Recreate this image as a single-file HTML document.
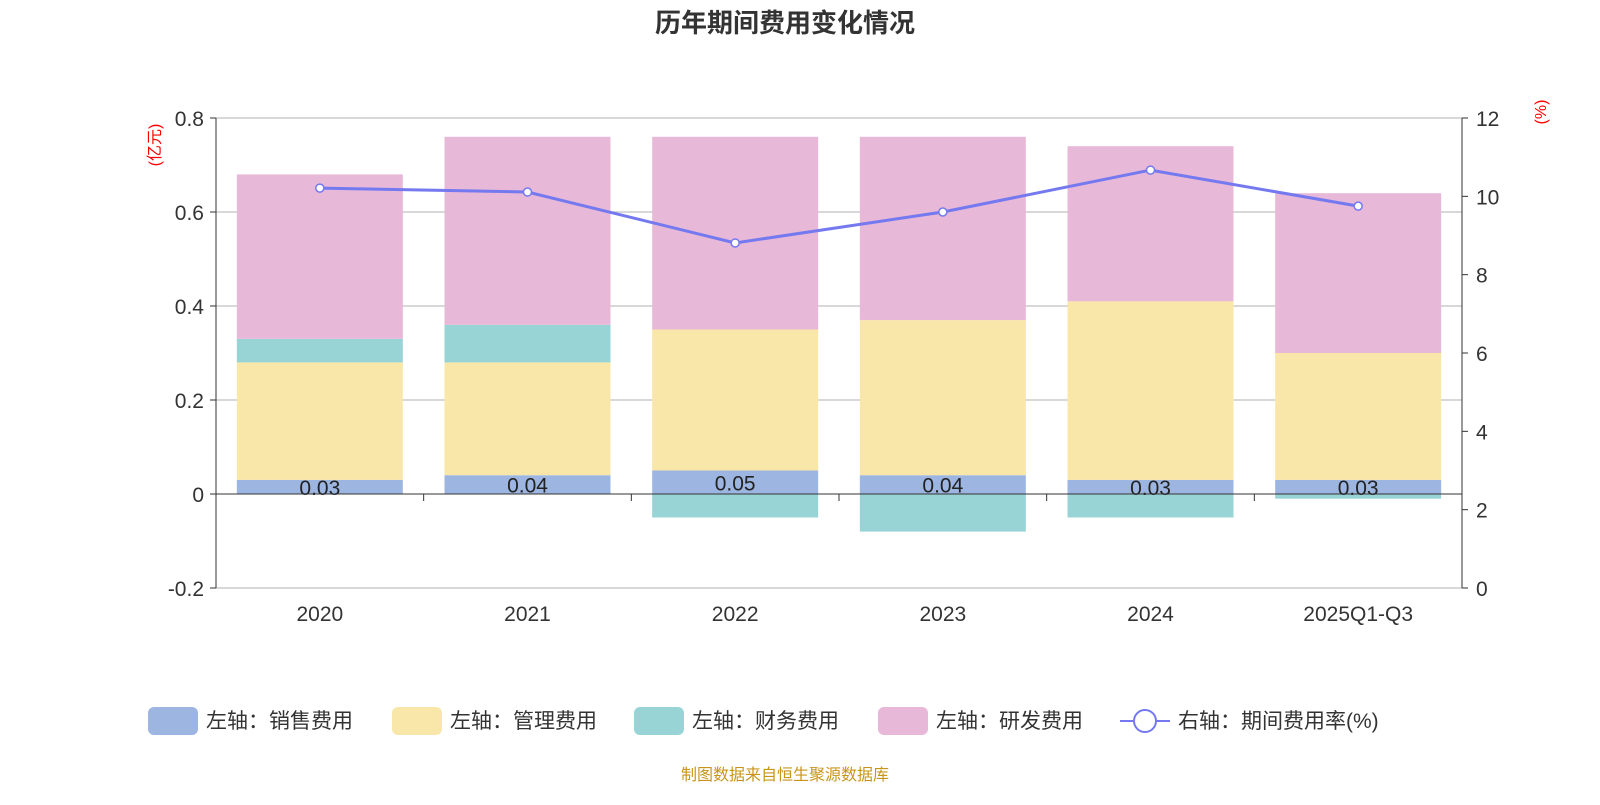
<!DOCTYPE html>
<html><head><meta charset="utf-8"><style>
body{margin:0;background:#fff;font-family:"Liberation Sans","Noto Sans CJK SC",sans-serif}
</style></head><body>
<svg id="c" width="1600" height="800" xmlns="http://www.w3.org/2000/svg"></svg>
<script>
const categories=["2020","2021","2022","2023","2024","2025Q1-Q3"];
const sales=[0.03,0.04,0.05,0.04,0.03,0.03];
const admin=[0.25,0.24,0.30,0.33,0.38,0.27];
const finance=[0.05,0.08,-0.05,-0.08,-0.05,-0.01];
const rnd=[0.35,0.40,0.41,0.39,0.33,0.34];
const rate=[10.21,10.11,8.81,9.6,10.67,9.75];
const leftTicks=[-0.2,0,0.2,0.4,0.6,0.8];
const rightTicks=[0,2,4,6,8,10,12];
const F='"Liberation Sans","Noto Sans CJK SC",sans-serif';
const svg=document.getElementById('c');
const NS='http://www.w3.org/2000/svg';
function mk(t,a,txt){const e=document.createElementNS(NS,t);for(const k in a)e.setAttribute(k,a[k]);if(txt!=null)e.textContent=txt;svg.appendChild(e);return e;}
const X0=216,X1=1462;const bw=(X1-X0)/categories.length;
const yL=v=>494-v*470;const yR=v=>588-v*470/12;
const xC=i=>X0+bw*(i+0.5);
let e=mk('text',{x:785,y:32,'text-anchor':'middle','font-size':26,'font-weight':'bold',fill:'#333','font-family':F},'历年期间费用变化情况');

leftTicks.forEach(v=>{
 if(v!==0){const g=mk('line',{x1:X0,x2:X1,y1:yL(v),y2:yL(v),stroke:'#ccc','stroke-width':1.5});}
 const t=mk('text',{x:X0-12,y:yL(v)+8,'text-anchor':'end','font-size':21,fill:'#333','font-family':F},v===0?'0':v.toFixed(1));
 
 mk('line',{x1:X0-6,x2:X0,y1:yL(v),y2:yL(v),stroke:'#333'});
});
rightTicks.forEach(v=>{
 const t=mk('text',{x:X1+14,y:yR(v)+8,'font-size':21,fill:'#333','font-family':F},String(v));
 
 mk('line',{x1:X1,x2:X1+6,y1:yR(v),y2:yR(v),stroke:'#333'});
});
e=mk('line',{x1:X0,x2:X0,y1:118,y2:588,stroke:'#333'});
e=mk('line',{x1:X1,x2:X1,y1:118,y2:588,stroke:'#333'});
e=mk('text',{x:0,y:0,transform:'translate(160,145) rotate(-90)','text-anchor':'middle','font-size':16,fill:'red','font-family':F},'(亿元)');
e=mk('text',{x:0,y:0,transform:'translate(1546,112) rotate(-90)','text-anchor':'middle','font-size':16,fill:'red','font-family':F},'(%)');
const W=166;
categories.forEach((c,i)=>{
 const x=xC(i)-W/2;let pos=0,neg=0;
 const segs=[[sales[i],'#9db6e1','bar-sales'],[admin[i],'#f8e7a8','bar-admin'],[finance[i],'#98d4d5','bar-finance'],[rnd[i],'#e7b8d8','bar-rnd']];
 segs.forEach(([v,col,n])=>{
  let a,b;if(v>=0){a=pos;b=pos+v;pos=b;}else{a=neg;b=neg+v;neg=b;}
  const r=mk('rect',{x:x,y:Math.min(yL(a),yL(b)),width:W,height:Math.abs(yL(a)-yL(b)),fill:col});
  
 });
 const t=mk('text',{x:xC(i),y:yL(sales[i]/2)+8,'text-anchor':'middle','font-size':21,fill:'#222','font-family':F},sales[i].toFixed(2));
 
 const l=mk('text',{x:xC(i),y:621,'text-anchor':'middle','font-size':21,fill:'#333','font-family':F},c);
 
});
e=mk('line',{x1:X0,x2:X1,y1:494,y2:494,stroke:'#333'});
for(let i=0;i<=categories.length;i++)mk('line',{x1:X0+bw*i,x2:X0+bw*i,y1:494,y2:501,stroke:'#333'});
e=mk('polyline',{points:rate.map((v,i)=>xC(i)+','+yR(v)).join(' '),fill:'none',stroke:'#7479f0','stroke-width':3});

rate.forEach((v,i)=>{const p=mk('circle',{cx:xC(i),cy:yR(v),r:4,fill:'#fff',stroke:'#7479f0','stroke-width':1.5});});
const leg=[[148,'#9db6e1','左轴：销售费用'],[392,'#f8e7a8','左轴：管理费用'],[634,'#98d4d5','左轴：财务费用'],[878,'#e7b8d8','左轴：研发费用']];
leg.forEach(([x,c,t])=>{
 const r=mk('rect',{x:x,y:707,width:50,height:28,rx:6,fill:c});
 const tx=mk('text',{x:x+58,y:728,'font-size':21,fill:'#333','font-family':F},t);
});
mk('line',{x1:1120,x2:1170,y1:721,y2:721,stroke:'#7479f0','stroke-width':2});
e=mk('circle',{cx:1145,cy:721,r:11,fill:'#fff',stroke:'#7479f0','stroke-width':2});
e=mk('text',{x:1178,y:728,'font-size':21,fill:'#333','font-family':F},'右轴：期间费用率(%)');
e=mk('text',{x:785,y:780,'text-anchor':'middle','font-size':16,fill:'#c8951a','font-family':F},'制图数据来自恒生聚源数据库');
</script>
</body></html>
